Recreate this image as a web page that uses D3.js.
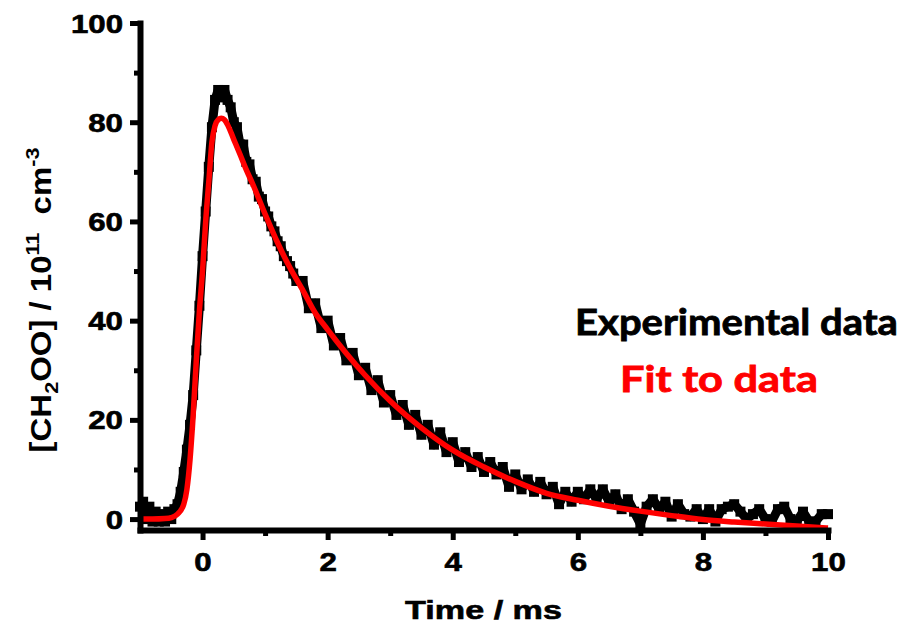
<!DOCTYPE html>
<html>
<head>
<meta charset="utf-8">
<script src="https://cdn.jsdelivr.net/npm/d3@7"></script>
<style>
  html, body { margin: 0; padding: 0; background: #fff; }
  svg { display: block; }
</style>
</head>
<body>
<div id="chart"></div>
<script>
// time (ms) and [CH2OO] (1e11 cm-3)
const expTime = [
  -1.00, -0.95, -0.90, -0.85, -0.80, -0.75, -0.70, -0.65, -0.60, -0.55,
  -0.50, -0.45, -0.40, -0.35, -0.30, -0.25, -0.20, -0.15, -0.10, -0.05,
   0.00,  0.05,  0.10,  0.15,  0.20,  0.25,  0.30,  0.35,  0.40,  0.45,
   0.50,  0.55,  0.60,  0.65,  0.70,  0.75,  0.80,  0.85,  0.90,  0.95,
   1.00,  1.05,  1.10,  1.15,  1.20,  1.25,  1.30,  1.35,  1.40,  1.45,
   1.50,  1.6, 1.7, 1.8, 1.9, 2.0, 2.1, 2.2, 2.3, 2.4,
   2.5, 2.6, 2.7, 2.8, 2.9, 3.0, 3.1, 3.2, 3.3, 3.4,
   3.5, 3.6, 3.7, 3.8, 3.9, 4.0, 4.1, 4.2, 4.3, 4.4,
   4.5, 4.6, 4.7, 4.8, 4.9, 5.0, 5.1, 5.2, 5.3, 5.4,
   5.5, 5.6, 5.7, 5.8, 5.9, 6.0, 6.1, 6.2, 6.3, 6.4,
   6.5, 6.6, 6.7, 6.8, 6.9, 7.0, 7.1, 7.2, 7.3, 7.4,
   7.5, 7.6, 7.7, 7.8, 7.9, 8.0, 8.1, 8.2, 8.3, 8.4,
   8.5, 8.6, 8.7, 8.8, 8.9, 9.0, 9.1, 9.2, 9.3, 9.4,
   9.5, 9.6, 9.7, 9.8, 9.9, 10.0
];
const expConc = [
   2.5,  3.5,  0.0,  2.5, -0.5,  1.5, -0.5,  1.0, -0.5,  1.5,
   0.0,  2.0,  3.0,  5.5,  9.5, 14.0, 19.0, 25.0, 34.0, 43.0,
  53.0, 62.0, 71.0, 79.0, 84.5, 86.5, 85.0, 86.5, 84.5, 83.0,
  80.0, 79.0, 75.5, 75.5, 72.0, 71.5, 68.5, 68.0, 65.0, 64.5,
  62.0, 61.0, 59.0, 58.0, 56.0, 55.0, 53.0, 52.0, 51.0, 49.5,
  48.0, 48.0, 42.5, 43.5, 38.5, 40.0, 35.0, 36.5, 32.0, 33.5,
  29.0, 30.5, 26.0, 28.0, 23.5, 25.0, 21.0, 23.0, 19.0, 21.0,
  17.0, 19.0, 15.0, 17.5, 13.5, 15.5, 11.5, 13.5, 10.5, 12.5,
   9.5, 11.5,  9.0, 10.5,  6.5,  9.0,  6.0,  8.0,  5.5,  7.5,
   5.0,  6.5,  3.0,  5.5,  3.5,  5.5,  4.0,  6.0,  4.0,  6.0,
   3.5,  5.0,  2.0,  4.0,  1.5, -1.0,  2.5,  4.0,  2.0,  3.5,
   0.5,  3.0,  1.0,  0.5,  2.0,  0.0,  2.0, -0.5,  2.0,  2.5,
   3.0,  1.5,  0.0,  1.0,  2.0,  0.0, -0.5,  2.0,  2.5,  0.0,
  -0.5,  1.5, -0.5, -0.5,  1.0,  1.0
];

const fitTime = [-1, -0.8, -0.6, -0.5, -0.4, -0.3, -0.25, -0.2, -0.15, -0.1, -0.05, 0,
  0.05, 0.1, 0.15, 0.2, 0.25, 0.3, 0.35, 0.4, 0.5, 0.6, 0.7, 0.8, 1.0, 1.2, 1.4,
  1.6, 1.8, 2.0, 2.3, 2.6, 3.0, 3.5, 4.0, 4.5, 5.0, 5.5, 6.0, 6.5, 7.0, 7.5, 8.0,
  8.5, 9.0, 9.5, 10];
const fitConc = [0, 0, 0.1, 0.3, 1.0, 3.0, 6.0, 12, 21, 32, 42, 50,
  60, 68, 76, 79.3, 80.5, 80.8, 80.5, 79.5, 76.5, 73.5, 70.4, 67.6, 61.5, 55.7, 50.6,
  46.2, 41.6, 38.2, 33.4, 29.0, 23.8, 18.4, 13.9, 10.5, 7.6, 5.2, 3.8, 2.6, 1.6, 0.7, -0.1,
  -0.6, -1.0, -1.4, -1.8];

const xMajorTicks = [0, 2, 4, 6, 8, 10];
const xMinorTicks = [1, 3, 5, 7, 9];
const yMajorTicks = [0, 20, 40, 60, 80, 100];
const yMinorTicks = [10, 30, 50, 70, 90];

const legendLabels = ["Experimental data", "Fit to data"];

const W = 904, H = 628;
const FONT = "'Liberation Sans', Arial, sans-serif";
const SX = 1.25; // tick labels are drawn wide in the original

const svg = d3.select("#chart").append("svg")
    .attr("width", W).attr("height", H);

const x = d3.scaleLinear().domain([-1, 10]).range([140, 828]);
const y = d3.scaleLinear().domain([-2.2, 100]).range([530, 23]);

// stretch a text horizontally so it fills a given width
function fitWidth(g, w) {
    const t = g.select("text");
    const bw = t.node().getBBox().width;
    return w / bw;
}

// ---- data
const expData = expTime.map((t, i) => ({t: t, c: expConc[i]}));
const fitData = fitTime.map((t, i) => ({t: t, c: fitConc[i]}));

svg.append("path")
    .datum(expData)
    .attr("fill", "none")
    .attr("stroke", "#000")
    .attr("stroke-width", 9)
    .attr("stroke-linejoin", "round")
    .attr("d", d3.line().x(d => x(d.t)).y(d => y(d.c)));

svg.selectAll("rect.pt")
    .data(expData)
    .enter().append("rect")
    .attr("class", "pt")
    .attr("x", d => x(d.t) - 5)
    .attr("y", d => y(d.c) - 5)
    .attr("width", 10)
    .attr("height", 10)
    .attr("fill", "#000");

svg.append("path")
    .datum(fitData)
    .attr("fill", "none")
    .attr("stroke", "#ff0000")
    .attr("stroke-width", 5.5)
    .attr("stroke-linejoin", "round")
    .attr("d", d3.line().curve(d3.curveMonotoneX).x(d => x(d.t)).y(d => y(d.c)));

// ---- axes
const gx = svg.append("g").attr("transform", "translate(0," + y(-2.2) + ")")
    .call(d3.axisBottom(x).tickValues(xMajorTicks).tickSize(10).tickSizeOuter(0).tickFormat(d3.format("d")));
const gxm = svg.append("g").attr("transform", "translate(0," + y(-2.2) + ")")
    .call(d3.axisBottom(x).tickValues(xMinorTicks).tickSize(6).tickFormat(""));
gxm.select(".domain").remove();

const gy = svg.append("g").attr("transform", "translate(" + x(-1) + ",0)")
    .call(d3.axisLeft(y).tickValues(yMajorTicks).tickSize(10).tickSizeOuter(0).tickFormat(d3.format("d")));
const gym = svg.append("g").attr("transform", "translate(" + x(-1) + ",0)")
    .call(d3.axisLeft(y).tickValues(yMinorTicks).tickSize(6).tickFormat(""));
gym.select(".domain").remove();

[gx, gxm, gy, gym].forEach(g => {
    g.select(".domain").attr("stroke", "#000").attr("stroke-width", 6).attr("stroke-linecap", "square");
    g.selectAll(".tick line").attr("stroke", "#000").attr("stroke-width", 5);
});

gx.selectAll(".tick text")
    .attr("font-family", FONT).attr("font-weight", "bold").attr("font-size", 25)
    .attr("fill", "#000")
    .attr("stroke", "#000").attr("stroke-width", 0.6)
    .attr("y", 41).attr("dy", null)
    .attr("transform", "scale(" + SX + ",1)");

gy.selectAll(".tick text")
    .attr("font-family", FONT).attr("font-weight", "bold").attr("font-size", 25)
    .attr("fill", "#000")
    .attr("stroke", "#000").attr("stroke-width", 0.6)
    .attr("x", -17 / SX).attr("dy", "0.36em")
    .attr("transform", "scale(" + SX + ",1)");

// ---- axis titles
const xt = svg.append("g");
xt.append("text")
    .attr("text-anchor", "middle")
    .attr("font-family", FONT).attr("font-weight", "bold").attr("font-size", 26)
    .attr("stroke", "#000").attr("stroke-width", 0.6)
    .text("Time / ms");
xt.attr("transform", "translate(483.5,619) scale(" + fitWidth(xt, 157) + ",1)");

const yt = svg.append("g");
const ytt = yt.append("text")
    .attr("text-anchor", "middle")
    .attr("font-family", FONT).attr("font-weight", "bold").attr("font-size", 29);
ytt.append("tspan").text("[CH");
ytt.append("tspan").attr("font-size", 19).attr("dy", 7).text("2");
ytt.append("tspan").attr("dy", -7).text("OO] / 10");
ytt.append("tspan").attr("font-size", 19).attr("dy", -12).text("11");
ytt.append("tspan").attr("dy", 12).text("\u00a0 cm");
ytt.append("tspan").attr("font-size", 19).attr("dy", -12).text("-3");
yt.attr("transform", "translate(51,300) rotate(-90) scale(" + fitWidth(yt, 305) + ",1)");

// ---- legend text
const LFONT = "Lato, 'Open Sans', sans-serif";
const l1 = svg.append("g");
l1.append("text")
    .attr("font-family", LFONT).attr("font-weight", "bold").attr("font-size", 36)
    .attr("fill", "#000").attr("stroke", "#000").attr("stroke-width", 0.8)
    .text(legendLabels[0]);
l1.attr("transform", "translate(575,335) scale(" + fitWidth(l1, 323) + ",1)");

const l2 = svg.append("g");
l2.append("text")
    .attr("font-family", LFONT).attr("font-weight", "bold").attr("font-size", 36)
    .attr("fill", "#ff0000").attr("stroke", "#ff0000").attr("stroke-width", 0.8)
    .text(legendLabels[1]);
l2.attr("transform", "translate(620,392) scale(" + fitWidth(l2, 198) + ",1)");
</script>
</body>
</html>
